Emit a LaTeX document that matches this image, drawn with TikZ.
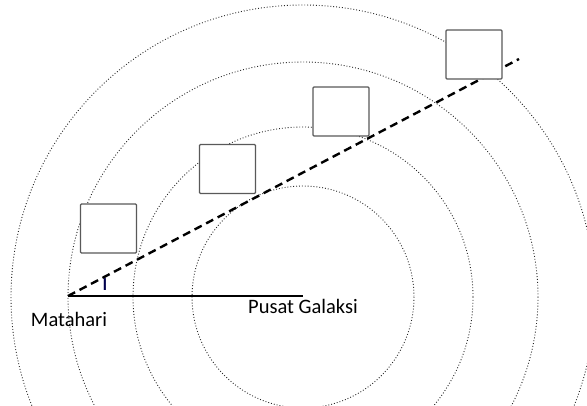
\documentclass[tikz,border=0pt]{standalone}
\usepackage{fontspec}
\setmainfont{Carlito}
\begin{document}
\begin{tikzpicture}[x=1pt,y=-1pt,
  orbit/.style={draw=black!85,line width=0.9pt,dotted},
  starbox/.style={draw=black!65,line width=1.2pt,rounded corners=1pt,fill=white,minimum width=56pt,minimum height=49pt,inner sep=0pt},
  lbl/.style={font=\fontsize{20.5}{24}\selectfont,text=black,inner sep=0pt}]
\useasboundingbox (0,0) rectangle (587,405);
\begin{scope}
\clip (0,0) rectangle (587,405);
\coordinate (gc) at (303,297);
\foreach \r in {111,170,235,292} \draw[orbit] (gc) circle[radius=\r];
\end{scope}
\coordinate (sun) at (68,296);
\coordinate (cen) at (303,296);
\coordinate (far) at (519,59);
\draw[line width=1.8pt,black] (sun) -- (cen);
\draw[line width=2.4pt,dash pattern=on 8pt off 5pt] (sun) -- (far);
\node[starbox] (b1) at (108.5,228.5) {};
\node[starbox] (b2) at (227.5,169) {};
\node[starbox] (b3) at (341,111.5) {};
\node[starbox] (b4) at (474,54.5) {};
\node[lbl,anchor=base] (mat) at (69,326) {Matahari};
\node[lbl,anchor=base west] (pg) at (248,313) {Pusat Galaksi};
\node[lbl,font=\fontsize{17}{19}\selectfont\bfseries,text=blue!30!black,anchor=base] (l) at (105,290) {l};
\end{tikzpicture}
\end{document}
